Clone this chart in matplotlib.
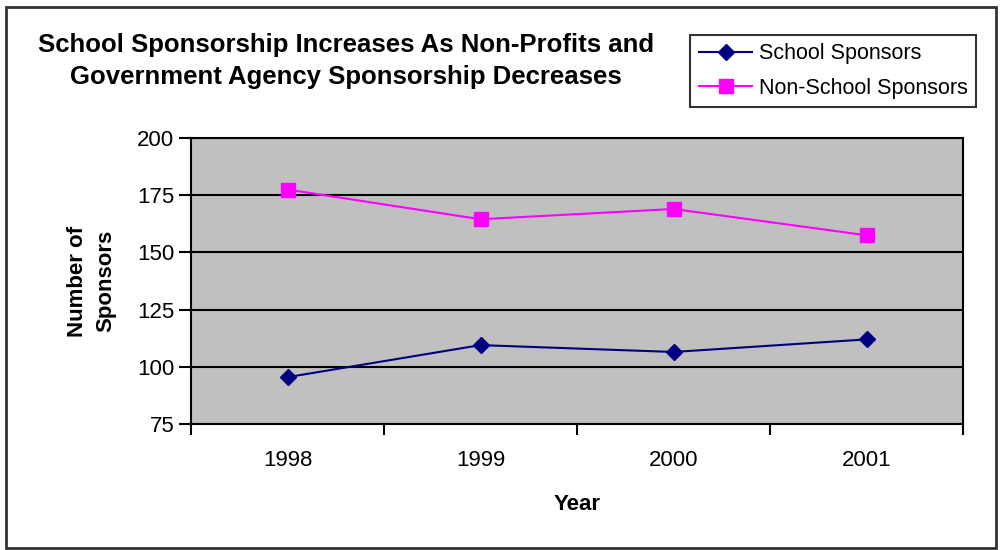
import matplotlib.pyplot as plt
from matplotlib.patches import Rectangle

plt.rcParams['font.family'] = ['Liberation Sans', 'DejaVu Sans']

years = ["1998", "1999", "2000", "2001"]
school = [95.5, 109.5, 106.5, 112]
non_school = [177.5, 164.5, 169, 157.5]

fig = plt.figure(figsize=(10, 5.5), dpi=100)
ax = fig.add_axes([0.191, 0.229, 0.772, 0.520])
ax.set_facecolor("#C0C0C0")

x = list(range(len(years)))
ax.plot(x, school, color="#000080", marker="D", markersize=8, linewidth=1.5,
        label="School Sponsors")
ax.plot(x, non_school, color="#FF00FF", marker="s", markersize=10, linewidth=1.5,
        label="Non-School Sponsors")

ax.set_xlim(-0.5, 3.5)
ax.set_ylim(75, 200)
ax.set_yticks(range(75, 201, 25))
ax.set_xticks([-0.5, 0.5, 1.5, 2.5, 3.5])
ax.set_xticklabels([])
ax.set_xticks(x, minor=True)
ax.set_xticklabels(years, minor=True)
ax.tick_params(axis="x", which="major", length=8, width=1.5, direction="out")
ax.tick_params(axis="x", which="minor", length=0, pad=19, labelsize=16)
ax.tick_params(axis="y", length=9, width=1.5, labelsize=16, pad=3)
ax.yaxis.grid(True, color="black", linewidth=1.5)
ax.set_axisbelow(True)
for s in ax.spines.values():
    s.set_linewidth(1.5)
    s.set_color("black")

ax.set_xlabel("Year", fontsize=16, fontweight="bold", labelpad=16)
ax.set_ylabel("Number of\nSponsors", fontsize=16, fontweight="bold", labelpad=15,
              linespacing=1.45)

fig.text(0.346, 0.889, "School Sponsorship Increases As Non-Profits and\nGovernment Agency Sponsorship Decreases",
         ha="center", va="center", fontsize=18.5, fontweight="bold", linespacing=1.42)

leg = fig.legend(loc="upper left", bbox_to_anchor=(0.69, 0.937), fontsize=15.5,
                 frameon=True, fancybox=False, handlelength=2.5, borderpad=0.4,
                 labelspacing=0.62, handletextpad=0.3, borderaxespad=0)
leg.get_frame().set_edgecolor("black")
leg.get_frame().set_linewidth(1.5)

fig.patches.append(Rectangle((0.006, 0.004), 0.99, 0.984, transform=fig.transFigure,
                             fill=False, edgecolor="#333333", linewidth=2))

fig.savefig("out.png", dpi=100)
